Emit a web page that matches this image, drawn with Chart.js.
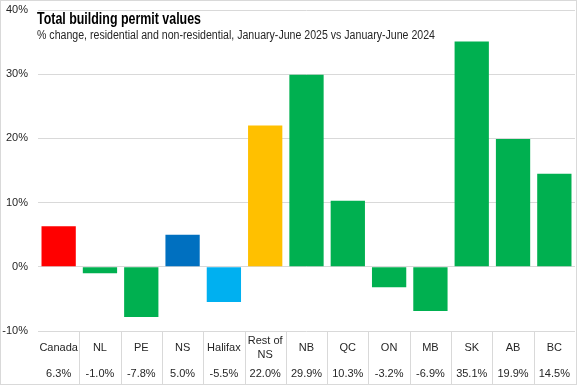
<!DOCTYPE html>
<html>
<head>
<meta charset="utf-8">
<script src="https://cdn.jsdelivr.net/npm/chart.js@4.4.1/dist/chart.umd.min.js"></script>
<style>
  html, body { margin: 0; padding: 0; background: #fff; }
  #wrap { position: relative; width: 577px; height: 385px; }
</style>
</head>
<body>
<div id="wrap"><canvas id="permitChart" width="577" height="385"></canvas></div>
<script>
// Total building permit values, % change Jan-Jun 2025 vs Jan-Jun 2024
const regions = ['Canada', 'NL', 'PE', 'NS', 'Halifax', 'Rest of NS', 'NB', 'QC', 'ON', 'MB', 'SK', 'AB', 'BC'];
const regionLines = [['Canada'], ['NL'], ['PE'], ['NS'], ['Halifax'], ['Rest of', 'NS'], ['NB'], ['QC'], ['ON'], ['MB'], ['SK'], ['AB'], ['BC']];
const pctChange = [6.3, -1.0, -7.8, 5.0, -5.5, 22.0, 29.9, 10.3, -3.2, -6.9, 35.1, 19.9, 14.5];
const barColors = ['#ff0000', '#00b050', '#00b050', '#0070c0', '#00b0f0', '#ffc000', '#00b050', '#00b050', '#00b050', '#00b050', '#00b050', '#00b050', '#00b050'];

const titleText = 'Total building permit values';
const subtitleText = '% change, residential and non-residential, January-June 2025 vs January-June 2024';

const tickFont = '11px "Liberation Sans", Arial, sans-serif';

// draw text squeezed to a given width (the source uses a condensed face)
function fitText(ctx, text, x, y, width) {
    const w = ctx.measureText(text).width;
    const s = Math.min(1, width / w);
    ctx.save();
    ctx.translate(x, y);
    ctx.scale(s, 1);
    ctx.fillText(text, 0, 0);
    ctx.restore();
}

// data table under the plot + title + outer border
const tablePlugin = {
    id: 'tablePlugin',
    afterDraw(chart) {
        const ctx = chart.ctx;
        const x = chart.scales.x;
        const area = chart.chartArea;
        ctx.save();
        ctx.strokeStyle = '#d9d9d9';
        ctx.lineWidth = 1;
        // cell dividers
        for (let i = 1; i < regions.length; i++) {
            const px = Math.round((x.getPixelForValue(i - 1) + x.getPixelForValue(i)) / 2) + 0.5;
            ctx.beginPath();
            ctx.moveTo(px, area.bottom);
            ctx.lineTo(px, chart.height);
            ctx.stroke();
        }
        // outer border
        ctx.strokeRect(0.5, 0.5, chart.width - 1, chart.height - 1);

        ctx.fillStyle = '#262626';
        ctx.font = tickFont;
        ctx.textAlign = 'center';
        ctx.textBaseline = 'middle';
        regions.forEach((r, i) => {
            const cx = x.getPixelForValue(i);
            const lines = regionLines[i];
            if (lines.length === 1) {
                ctx.fillText(lines[0], cx, 348);
            } else {
                ctx.fillText(lines[0], cx, 341);
                ctx.fillText(lines[1], cx, 355);
            }
            ctx.fillText(pctChange[i].toFixed(1) + '%', cx, 374);
        });

        // title
        ctx.textAlign = 'left';
        ctx.textBaseline = 'alphabetic';
        ctx.fillStyle = '#000000';
        ctx.font = 'bold 16px "Liberation Sans", Arial, sans-serif';
        fitText(ctx, titleText, 37, 24, 164);
        ctx.fillStyle = '#262626';
        ctx.font = '12px "Liberation Sans", Arial, sans-serif';
        fitText(ctx, subtitleText, 37, 39, 398);
        ctx.restore();
    }
};

new Chart(document.getElementById('permitChart'), {
    type: 'bar',
    data: {
        labels: regions,
        datasets: [
            {
                data: pctChange,
                backgroundColor: barColors,
                borderWidth: 0,
                barPercentage: 0.83,
                categoryPercentage: 1
            }
        ]
    },
    options: {
        responsive: false,
        animation: false,
        layout: {
            padding: { left: 0, right: 2, top: 10, bottom: 54 }
        },
        scales: {
            x: {
                display: false
            },
            y: {
                min: -10,
                max: 40,
                afterFit(scale) {
                    scale.width = 38;
                    scale.paddingTop = 0;
                    scale.paddingBottom = 0;
                },
                border: { display: false },
                grid: {
                    color: '#d9d9d9',
                    drawTicks: false
                },
                ticks: {
                    stepSize: 10,
                    padding: 10,
                    color: '#262626',
                    font: { family: '"Liberation Sans", Arial, sans-serif', size: 11 },
                    callback: v => v + '%'
                }
            }
        },
        plugins: {
            legend: { display: false },
            tooltip: { enabled: false }
        }
    },
    plugins: [tablePlugin]
});
</script>
</body>
</html>
